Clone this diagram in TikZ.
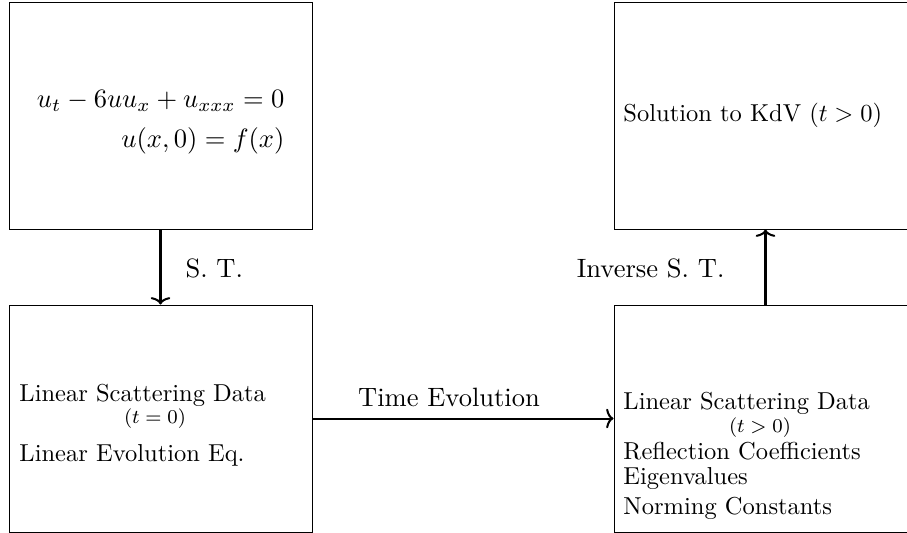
\documentclass[tikz,border=0pt]{standalone}
\usepackage{amsmath}
\usetikzlibrary{arrows.meta}
\begin{document}
\begin{tikzpicture}[x=0.4082pt,y=-0.4082pt,
  box/.style={draw,line width=0.4pt,minimum width={303*0.4082pt},minimum height={227*0.4082pt},inner sep=0pt},
  txt/.style={inner sep=0pt,anchor=west},
  lbl/.style={inner sep=0pt,scale=1.083},
  flow/.style={-{Computer Modern Rightarrow[length=3pt,width=8pt]},line width=0.82pt}]
\useasboundingbox (0,0) rectangle (907,533);
\node[box] (A) at (160.5,115.5) {};
\node[box] (B) at (160.5,418.5) {};
\node[box] (C) at (765.5,418.5) {};
\node[box] (D) at (765.5,115.5) {};
% texts
\node[lbl,anchor=east,align=right] (Aeq) at (285,122) {$u_t-6uu_x+u_{xxx}=0$\\[3pt]$u(x,0)=f(x)$};
\node[txt] (B1) at (19,395) {Linear Scattering Data};
\node[inner sep=0pt,font=\footnotesize] (B2) at (155,419) {$(t=0)$};
\node[txt] (B3) at (19,455) {Linear Evolution Eq.};
\node[txt] (C1) at (623,403) {Linear Scattering Data};
\node[inner sep=0pt,font=\footnotesize] (C2) at (760,428) {$(t>0)$};
\node[txt] (C3) at (623,451) {Reflection Coefficients};
\node[txt] (C4) at (623,479) {Eigenvalues};
\node[txt] (C5) at (623,508) {Norming Constants};
\node[txt] (D1) at (623,115) {Solution to KdV $(t>0)$};
% connectors
\draw[flow] (A.south) -- (B.north);
\draw[flow] (B.east) -- (C.west);
\draw[flow] (C.north) -- (D.south);
\node[lbl,anchor=west] (L1) at (185,268) {S. T.};
\node[lbl,anchor=east] (L2) at (725,268) {Inverse S. T.};
\node[lbl] (L3) at (449,397) {Time Evolution};
\end{tikzpicture}
\end{document}
